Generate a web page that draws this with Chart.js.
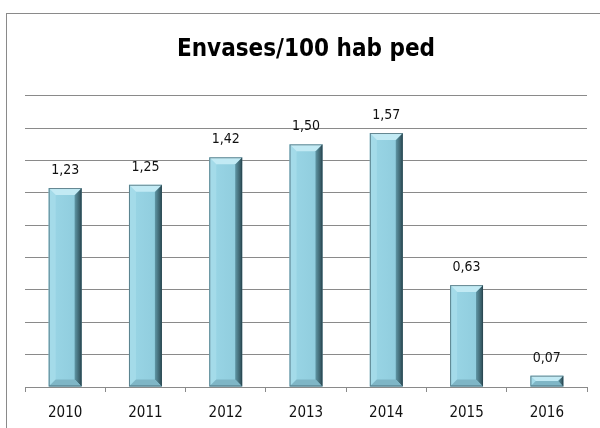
<!DOCTYPE html>
<html>
<head>
<meta charset="utf-8">
<script src="https://cdn.jsdelivr.net/npm/chart.js@4/dist/chart.umd.min.js"></script>
<style>
  html, body { margin: 0; padding: 0; background: #fff; }
  #frame { position: absolute; left: 6px; top: 13px; width: 700px; height: 500px; border: 1px solid #8a8a8a; box-sizing: border-box; }
  #wrap { position: absolute; left: 0; top: 0; width: 600px; height: 428px; }
</style>
</head>
<body>
<div id="frame"></div>
<div id="wrap"><canvas id="c" width="600" height="428"></canvas></div>
<script>
const categories = ["2010", "2011", "2012", "2013", "2014", "2015", "2016"];
const values = [1.23, 1.25, 1.42, 1.50, 1.57, 0.63, 0.07];
const valueLabels = ["1,23", "1,25", "1,42", "1,50", "1,57", "0,63", "0,07"];
const chartTitle = "Envases/100 hab ped";

const FONT = '"DejaVu Sans Condensed", "Liberation Sans", sans-serif';

const bevelPlugin = {
  id: 'bevel',
  afterDatasetsDraw(chart) {
    const ctx = chart.ctx;
    const meta = chart.getDatasetMeta(0);
    meta.data.forEach((el, i) => {
      const p = el.getProps(['x', 'y', 'base', 'width'], true);
      const l = p.x - p.width / 2, r = p.x + p.width / 2, t = p.y, b = p.base;
      const h = b - t;
      const bv = Math.min(7, h / 2);
      ctx.save();
      const g = ctx.createLinearGradient(l, 0, r, 0);
      g.addColorStop(0, '#9ad6e6');
      g.addColorStop(1, '#8ecbdc');
      ctx.fillStyle = g;
      ctx.fillRect(l, t, r - l, h);
      ctx.fillStyle = '#a4dbe9';
      ctx.beginPath(); ctx.moveTo(l, t); ctx.lineTo(l + bv, t + bv); ctx.lineTo(l + bv, b - bv); ctx.lineTo(l, b); ctx.closePath(); ctx.fill();
      const gr = ctx.createLinearGradient(r - bv, 0, r, 0);
      gr.addColorStop(0, '#5f96a5');
      gr.addColorStop(1, '#2c4a53');
      ctx.fillStyle = gr;
      ctx.beginPath(); ctx.moveTo(r, t); ctx.lineTo(r - bv, t + bv); ctx.lineTo(r - bv, b - bv); ctx.lineTo(r, b); ctx.closePath(); ctx.fill();
      ctx.fillStyle = '#c2eaf4';
      ctx.beginPath(); ctx.moveTo(l, t); ctx.lineTo(r, t); ctx.lineTo(r - bv, t + bv); ctx.lineTo(l + bv, t + bv); ctx.closePath(); ctx.fill();
      ctx.fillStyle = '#7fb6c6';
      ctx.beginPath(); ctx.moveTo(l, b); ctx.lineTo(r, b); ctx.lineTo(r - bv, b - bv); ctx.lineTo(l + bv, b - bv); ctx.closePath(); ctx.fill();
      ctx.strokeStyle = 'rgba(40,70,80,0.6)';
      ctx.lineWidth = 1;
      ctx.strokeRect(l + 0.5, t + 0.5, r - l - 1, h - 1);
      ctx.restore();
      ctx.save();
      ctx.font = '14px ' + FONT;
      ctx.fillStyle = '#111';
      ctx.textAlign = 'center';
      ctx.textBaseline = 'alphabetic';
      ctx.fillText(valueLabels[i], p.x, t - 14);
      ctx.restore();
    });
  }
};

new Chart(document.getElementById('c'), {
  type: 'bar',
  data: {
    labels: categories,
    datasets: [{
      data: values,
      backgroundColor: 'rgba(0,0,0,0)',
      borderWidth: 0,
      barPercentage: 0.82,
      categoryPercentage: 0.5
    }]
  },
  plugins: [bevelPlugin],
  options: {
    responsive: false,
    animation: false,
    events: [],
    layout: { padding: { left: 25, right: 13, top: 0, bottom: -6 } },
    plugins: {
      legend: { display: false },
      tooltip: { enabled: false },
      title: {
        display: true,
        text: chartTitle,
        color: '#000',
        font: { family: FONT, size: 24, weight: 'bold' },
        padding: { top: 35, bottom: 32 }
      }
    },
    scales: {
      x: {
        grid: { display: true, drawOnChartArea: false, drawTicks: true, tickLength: 5, offset: true, color: '#8a8a8a' },
        border: { display: true, color: '#8a8a8a', width: 1 },
        ticks: { color: '#111', font: { family: FONT, size: 15 }, padding: 12 }
      },
      y: {
        min: 0, max: 1.8,
        ticks: { display: false, stepSize: 0.2 },
        grid: { color: '#8a8a8a', drawTicks: false },
        border: { display: false }
      }
    }
  }
});
</script>
</body>
</html>
